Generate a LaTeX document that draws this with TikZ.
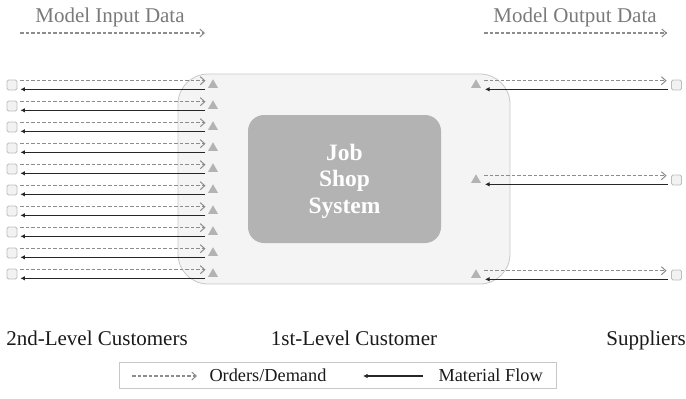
\documentclass[tikz,border=0pt]{standalone}
\usepackage{fontspec}
\setmainfont{Liberation Serif}
\usetikzlibrary{arrows.meta,shapes.geometric}

\definecolor{demgray}{HTML}{8C8C8C}
\definecolor{matblack}{HTML}{262626}
\definecolor{trigray}{HTML}{B3B3B3}
\definecolor{portfill}{HTML}{F2F2F2}
\definecolor{portdraw}{HTML}{BDBDBD}
\definecolor{firmfill}{HTML}{F4F4F4}
\definecolor{firmdraw}{HTML}{C8C8C8}
\definecolor{coregray}{HTML}{B3B3B3}
\definecolor{headgray}{HTML}{7A7A7A}
\definecolor{labelink}{HTML}{1A1A1A}

\begin{document}
\begin{tikzpicture}[x=1pt,y=-1pt,
  port/.style={rectangle, draw=portdraw, fill=portfill, line width=0.8pt,
    rounded corners=1.5pt, minimum size=10pt, inner sep=0pt},
  tri/.style={regular polygon, regular polygon sides=3, fill=trigray,
    minimum size=11.5pt, inner sep=0pt},
  dem/.style={draw=demgray, line width=1.1pt, dash pattern=on 3.5pt off 2pt,
    -{Straight Barb[length=4.5pt,width=8pt,line width=1pt]}},
  mat/.style={draw=matblack, line width=1.6pt, -{Latex[length=4.5pt,width=4.5pt]}},
  head/.style={anchor=base, text=headgray, font=\fontsize{21}{24}\selectfont},
  tier/.style={anchor=base, text=labelink, font=\fontsize{21}{24}\selectfont},
  legtext/.style={anchor=base west, text=labelink, font=\fontsize{18.3}{22}\selectfont}]

\useasboundingbox (0,0) rectangle (686,399);

% the first-level customer (firm boundary)
\node[draw=firmdraw, fill=firmfill, line width=0.8pt, rounded corners=30pt,
  minimum width=332pt, minimum height=210pt, inner sep=0pt] (firm) at (344,179) {};

% the job shop inside it
\node[fill=coregray, rounded corners=16pt, minimum width=193pt, minimum height=128pt,
  inner sep=0pt, align=center, text=white,
  font=\fontsize{23.5}{26.5}\selectfont\bfseries] (shop) at (344.5,179) {};
\node[align=center, text=white, inner sep=0pt,
  font=\fontsize{23.5}{26.5}\selectfont\bfseries] (shoptext) at (344.5,181) {Job\\Shop\\System};

% headings with their dashed arrows
\node[head] (inhead) at (110,22) {Model Input Data};
\node[head] (outhead) at (575,22) {Model Output Data};
\coordinate (ina) at (20,33);
\coordinate (inb) at (205,33);
\coordinate (outa) at (484,33);
\coordinate (outb) at (667,33);
\draw[dem] (ina) -- (inb);
\draw[dem] (outa) -- (outb);

% second-level customers
\foreach \i in {1,...,10} {
  \pgfmathsetmacro\yy{85+(\i-1)*21}
  \node[port] (c\i) at (12,\yy) {};
  \node[tri] (l\i) at (213,\yy) {};
  \draw[dem] ([xshift=3pt,yshift=4.3pt]c\i.east) -- ([xshift=-7.5pt,yshift=4.3pt]l\i.center);
  \draw[mat] ([xshift=-8pt,yshift=-4.3pt]l\i.center) -- ([xshift=3pt,yshift=-4.3pt]c\i.east);
}

% suppliers
\foreach \i/\yy in {1/85,2/180,3/275} {
  \node[port] (s\i) at (676.5,\yy) {};
  \node[tri] (r\i) at (476,\yy) {};
  \draw[dem] ([xshift=8pt,yshift=4.3pt]r\i.center) -- ([xshift=-4.5pt,yshift=4.3pt]s\i.west);
  \draw[mat] ([xshift=-3.5pt,yshift=-4.3pt]s\i.west) -- ([xshift=9pt,yshift=-4.3pt]r\i.center);
}

% tier labels
\node[tier] (t2) at (97,345) {2nd-Level Customers};
\node[tier] (t1) at (354,345) {1st-Level Customer};
\node[tier] (ts) at (646,345) {Suppliers};

% legend
\node[draw=firmdraw, line width=0.8pt, minimum width=437pt, minimum height=26pt,
  inner sep=0pt] (legend) at (337.5,375) {};
\coordinate (lda) at (132,376);
\coordinate (ldb) at (197,376);
\draw[dem] (lda) -- (ldb);
\node[legtext] (ldt) at (206,381) {Orders/Demand};
\coordinate (lma) at (423,376);
\coordinate (lmb) at (363,376);
\draw[mat] (lma) -- (lmb);
\node[legtext] (lmt) at (435,381) {Material Flow};

\end{tikzpicture}
\end{document}
